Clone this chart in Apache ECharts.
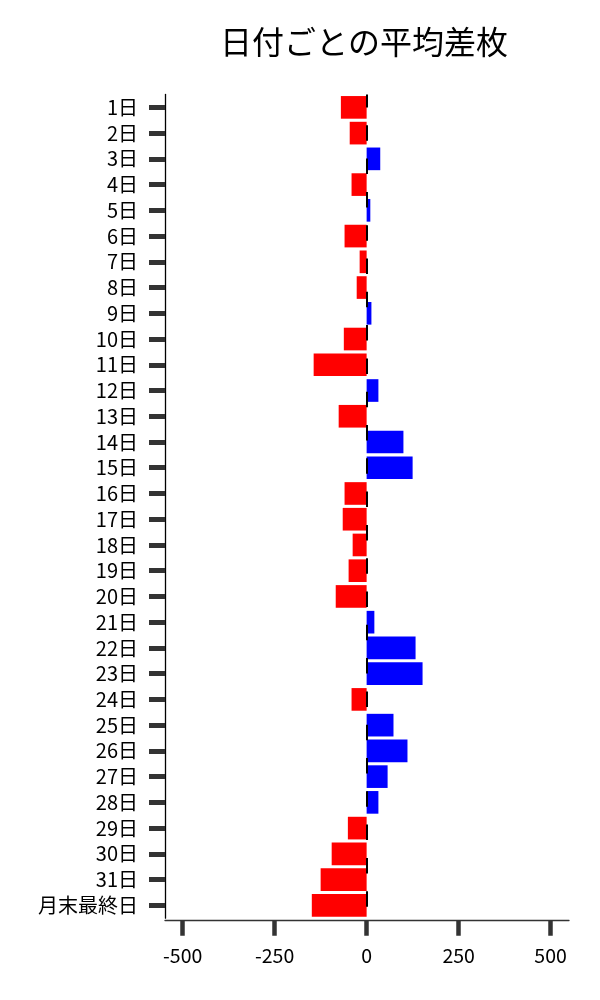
<!DOCTYPE html>
<html>
<head>
<meta charset="utf-8">
<script src="https://cdn.jsdelivr.net/npm/echarts@6/dist/echarts.min.js"></script>
<style>html,body{margin:0;padding:0;background:#fff}#c{width:600px;height:1000px}</style>
</head>
<body>
<div id="c"></div>
<script>
const titleText = '日付ごとの平均差枚';
const categories = ['1日','2日','3日','4日','5日','6日','7日','8日','9日','10日','11日','12日','13日','14日','15日','16日','17日','18日','19日','20日','21日','22日','23日','24日','25日','26日','27日','28日','29日','30日','31日','月末最終日'];
const values = [-70,-46,37,-41,10,-60,-19,-27,13,-62,-144,32,-76,100,125,-60,-65,-38,-49,-84,21,133,152,-41,73,111,57,32,-51,-95,-125,-149];
const xTicks = [-500,-250,0,250,500];

const FONT = '"Noto Sans CJK JP", "Noto Sans", sans-serif';
const chart = echarts.init(document.getElementById('c'), null, {renderer:'canvas'});
chart.setOption({
  backgroundColor: '#ffffff',
  animation: false,
  title: {
    text: titleText,
    left: 359, top: 21, textAlign: 'center',
    textStyle: {fontFamily: FONT, fontSize: 32, fontWeight: 'normal', color: '#000'}
  },
  grid: {left: 165, right: 31, top: 94.5, bottom: 81.8},
  xAxis: {
    type: 'value', min: -548, max: 550, offset: 2.5,
    axisLine: {show: true, onZero: false, lineStyle: {color: '#333', width: 1.3}},
    axisTick: {show: true, customValues: xTicks, length: 15, lineStyle: {color: '#333', width: 4.5}},
    axisLabel: {customValues: xTicks, fontFamily: FONT, fontSize: 19.5, color: '#000', margin: 25},
    splitLine: {show: false}
  },
  yAxis: {
    type: 'category', data: categories, inverse: true,
    axisLine: {show: true, onZero: false, lineStyle: {color: '#000', width: 1.3}},
    axisTick: {show: true, alignWithLabel: true, interval: 0, length: 16, lineStyle: {color: '#333', width: 5}},
    axisLabel: {interval: 0, fontFamily: FONT, fontSize: 20, color: '#000', margin: 27},
    splitLine: {show: false}
  },
  series: [{
    type: 'bar',
    data: values,
    barCategoryGap: '12%',
    itemStyle: {color: p => p.value < 0 ? '#ff0000' : '#0000ff'},
    markLine: {
      silent: true, symbol: 'none', label: {show: false},
      lineStyle: {color: '#000', width: 2, type: [15.5, 17.8], dashOffset: 2.5},
      data: [{xAxis: 0}]
    }
  }]
});
</script>
</body>
</html>
